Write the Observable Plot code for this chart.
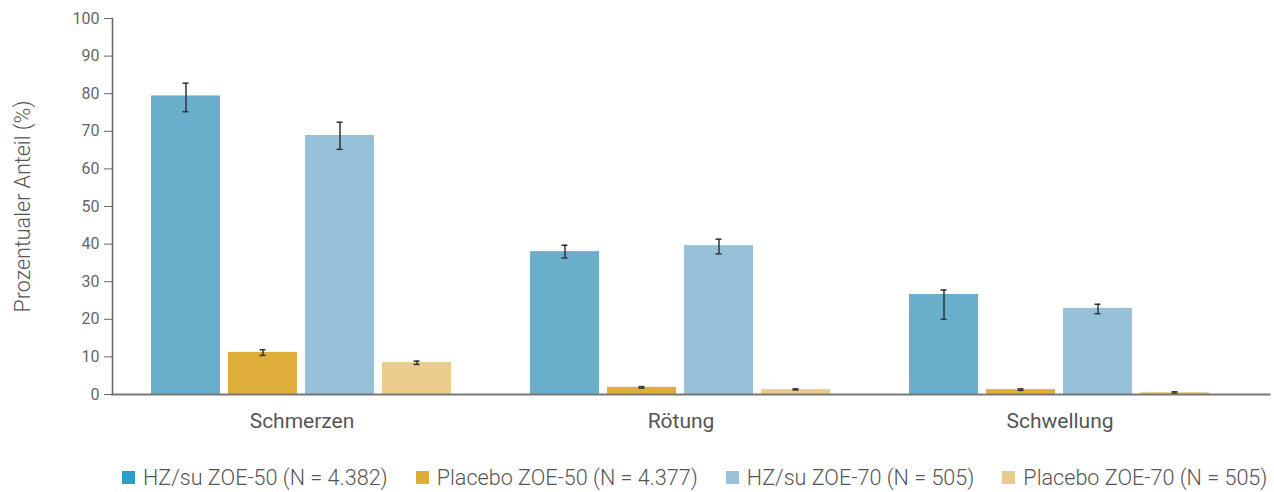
<!DOCTYPE html>
<html>
<head>
<meta charset="utf-8">
<script src="https://cdn.jsdelivr.net/npm/d3@7"></script>
<script src="https://cdn.jsdelivr.net/npm/@observablehq/plot@0.6"></script>
<style>
  body { margin: 0; background: #fff; font-family: Roboto, "Noto Sans", sans-serif; }
  #legend { display: flex; flex-wrap: nowrap; white-space: nowrap; padding-left: 122px; margin-top: 20px; font-size: 21.6px; color: #555; font-weight: 300; }
  #legend .item { display: flex; flex-shrink: 0; align-items: center; margin-right: 28px; }
  #legend .sw { width: 13px; height: 13px; margin-right: 8px; flex-shrink: 0; }
</style>
</head>
<body>
<div id="chart"></div>
<div id="legend"></div>
<script>
const categories = ["Schmerzen", "Rötung", "Schwellung"];
const series = ["HZ/su ZOE-50 (N = 4.382)", "Placebo ZOE-50 (N = 4.377)", "HZ/su ZOE-70 (N = 505)", "Placebo ZOE-70 (N = 505)"];
const barColors = ["#69afcc", "#dfad3a", "#97c1d8", "#ebcc8d"];
const legendColors = ["#2aa0c6", "#dfac37", "#98c2db", "#ebcb8c"];
// values per series, in category order
const hz50 = [79.4, 38.0, 26.6];
const pl50 = [11.2, 1.9, 1.3];
const hz70 = [68.9, 39.6, 22.9];
const pl70 = [8.5, 1.3, 0.5];
// error bar bounds (low, high) per series
const hz50Low = [75.2, 36.3, 20.0], hz50High = [82.8, 39.7, 27.8];
const pl50Low = [10.4, 1.7, 1.1], pl50High = [11.9, 2.1, 1.5];
const hz70Low = [65.2, 37.4, 21.5], hz70High = [72.4, 41.3, 24.0];
const pl70Low = [8.0, 1.2, 0.3], pl70High = [8.9, 1.5, 0.7];
const yTicks = [0, 10, 20, 30, 40, 50, 60, 70, 80, 90, 100];

const vals = [hz50, pl50, hz70, pl70];
const lows = [hz50Low, pl50Low, hz70Low, pl70Low];
const highs = [hz50High, pl50High, hz70High, pl70High];
const data = [];
categories.forEach((c, ci) => series.forEach((s, si) => {
  data.push({category: c, series: s, value: vals[si][ci], low: lows[si][ci], high: highs[si][ci]});
}));

const chart = Plot.plot({
  width: 1274,
  height: 445,
  marginLeft: 108,
  marginRight: 2,
  marginTop: 18,
  marginBottom: 51,
  style: {fontFamily: "Roboto, sans-serif", fontSize: "15px", color: "#666"},
  fx: {domain: categories, range: [108, 1272], paddingInner: 0, paddingOuter: 0.0316, align: 0.15, label: null},
  x: {domain: series, paddingInner: 0.1, paddingOuter: 0.5, axis: null},
  y: {domain: [0, 100], label: null},
  color: {domain: series, range: barColors},
  marks: [
    Plot.barY(data, {fx: "category", x: "series", y: "value", fill: "series"}),
    Plot.ruleX(data, {fx: "category", x: "series", y1: "low", y2: "high", stroke: "#333", strokeWidth: 1.5}),
    Plot.tickY(data, {fx: "category", x: "series", y: "low", stroke: "#333", strokeWidth: 1.5, insetLeft: 31.5, insetRight: 31.5}),
    Plot.tickY(data, {fx: "category", x: "series", y: "high", stroke: "#333", strokeWidth: 1.5, insetLeft: 31.5, insetRight: 31.5}),
    Plot.axisY({ticks: yTicks, tickSize: 8, tickPadding: 5, stroke: "#666", fill: "#666", fontSize: 16, label: null}),
    Plot.frame({anchor: "left", facet: "super", stroke: "#666", strokeWidth: 1.5}),
    Plot.frame({anchor: "bottom", facet: "super", stroke: "#777", strokeWidth: 2, insetRight: -20}),
    Plot.axisFx({anchor: "bottom", tickSize: 0, tickPadding: 19, fontSize: 21, fill: "#555", label: null}),
    Plot.text(["Prozentualer Anteil (%)"], {frameAnchor: "left", textAnchor: "middle", facet: "super", dx: -89, rotate: -90, fontSize: 21.5, fill: "#555", fontWeight: 300})
  ]
});
document.getElementById("chart").appendChild(chart);

const legend = document.getElementById("legend");
series.forEach((s, i) => {
  const item = document.createElement("div");
  item.className = "item";
  const sw = document.createElement("span");
  sw.className = "sw";
  sw.style.background = legendColors[i];
  const t = document.createElement("span");
  t.textContent = s;
  item.appendChild(sw); item.appendChild(t);
  legend.appendChild(item);
});
</script>
</body>
</html>
